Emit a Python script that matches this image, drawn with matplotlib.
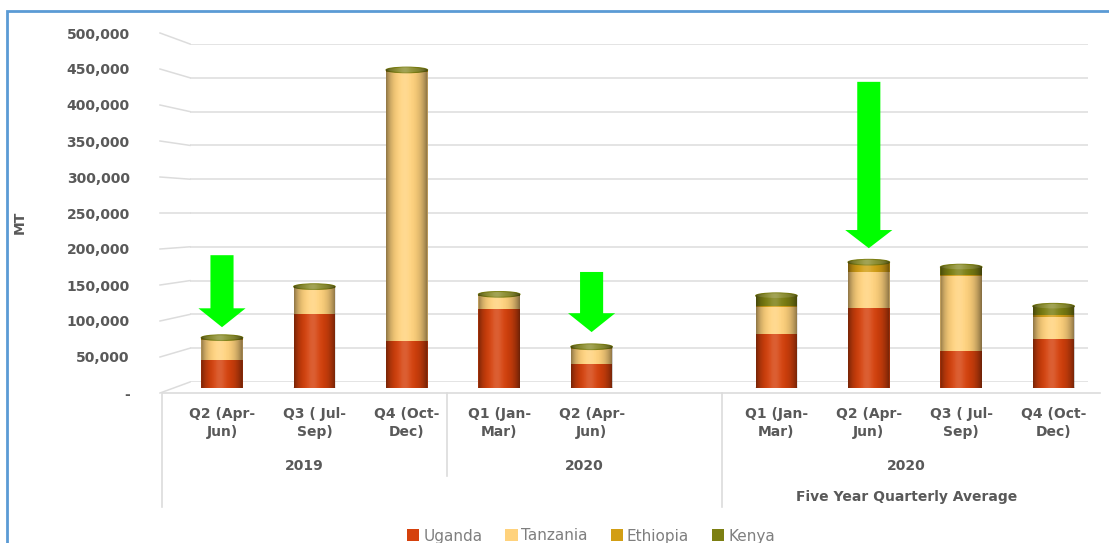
import numpy as np
import matplotlib
matplotlib.use('Agg')
import matplotlib.pyplot as plt
import matplotlib.patches as mpatches
import matplotlib.transforms as mtrans
from matplotlib.lines import Line2D
from matplotlib.colors import to_rgb

# data (MT), one slot per quarter, slot 5 is an empty spacer
quarters = ['Q2 (Apr-\nJun)', 'Q3 ( Jul-\nSep)', 'Q4 (Oct-\nDec)',
            'Q1 (Jan-\nMar)', 'Q2 (Apr-\nJun)', '',
            'Q1 (Jan-\nMar)', 'Q2 (Apr-\nJun)', 'Q3 ( Jul-\nSep)', 'Q4 (Oct-\nDec)']
uganda = [40000, 106000, 67000, 113000, 34000, 0, 77000, 114000, 53000, 70000]
tanzania = [29000, 37000, 385000, 18000, 22000, 0, 39000, 52000, 107000, 32000]
ethiopia = [2000, 1000, 2000, 1000, 1000, 0, 2000, 13000, 2000, 2000]
kenya = [1000, 1000, 1000, 2000, 2000, 0, 14000, 1000, 11000, 13000]
series_names = ['Uganda', 'Tanzania', 'Ethiopia', 'Kenya']
series_colors = ['#D5410C', '#FFD27C', '#D29E14', '#7C7F12']
groups = [['2019'], ['2020'], ['2020', 'Five Year Quarterly Average']]
group_edges = [-0.65, 2.43, 5.41, 9.41]
arrow_slots = [0, 4, 7]

W, H = 1109, 543
fig = plt.figure(figsize=(W / 100, H / 100), dpi=100)
fig.patch.set_facecolor('white')
GRAY = '#595959'
GRID = '#DCDCDC'


def px_axes(left, right, top, bottom, **kw):
    return fig.add_axes([left / W, 1 - bottom / H, (right - left) / W, (bottom - top) / H], **kw)


# 3 planes of the fake 3d chart: back wall, bars (middle), front (labels)
XL, XR = 163, 1100
xlim = (-(222 - XL) / 92.4, (XR - 222) / 92.4)
wall = px_axes(190, 1088, 44, 382)
front = px_axes(XL, XR, 33, 393)
ax = px_axes(XL, XR, 38.5, 388)
for a in (wall, front, ax):
    a.set_ylim(0, 500000)
    a.patch.set_alpha(0)
    for s in a.spines.values():
        s.set_visible(False)
    a.set_xticks([])
wall.set_xlim(0, 1)
front.set_xlim(*xlim)
ax.set_xlim(*xlim)
ax.set_yticks([])
wall.set_yticks([])

ticks = np.arange(0, 500001, 50000)
for t in ticks:
    wall.axhline(t, color=GRID, lw=1.1, zorder=0)
    # slanted stub from front plane to wall
    y_front = front.transData.transform((0, t))[1]
    y_wall = wall.transData.transform((0, t))[1]
    fig.add_artist(Line2D([160 / W, 190 / W], [y_front / H, y_wall / H],
                          transform=fig.transFigure, color=GRID, lw=1.1))

front.set_yticks(ticks)
front.set_yticklabels(['-' if t == 0 else '{:,}'.format(t) for t in ticks],
                      fontsize=10, fontweight='bold', color=GRAY)
front.tick_params(axis='y', length=0, pad=24)
front.spines['bottom'].set_visible(True)
front.spines['bottom'].set_color(GRID)
front.spines['bottom'].set_linewidth(1.2)
fig.text(20 / W, 1 - 222 / H, 'MT', rotation=90, ha='center', va='center',
         fontsize=10, fontweight='bold', color=GRAY)

# stacked cylinders
x = np.arange(len(quarters))
bw = 0.45
eh = 8000
data = [uganda, tanzania, ethiopia, kenya]
bottom = np.zeros(len(x))
for vals, c in zip(data, series_colors):
    vals = np.array(vals, dtype=float)
    ax.bar(x, vals, bw, bottom=bottom, color=c, zorder=2, linewidth=0)
    bottom += vals


def lighten(c, f):
    r = np.array(to_rgb(c))
    return tuple(r + (1 - r) * f)


prof = np.linspace(0, 1, 200)
shade = np.zeros((1, 200, 4))
shade[0, :, 3] = np.clip(0.5 * ((prof - 0.45) / 0.55) ** 3, 0, 1)
shade[0, prof < 0.45, 3] = 0.45 * ((0.45 - prof[prof < 0.45]) / 0.45) ** 3
hi = np.zeros((1, 200, 4))
hi[0, :, :3] = 1
hi[0, :, 3] = 0.16 * np.exp(-((prof - 0.45) / 0.15) ** 2)

for i in x:
    total = bottom[i]
    if total == 0:
        continue
    top_c = series_colors[max(k for k in range(4) if data[k][i] > 0)]
    ax.add_patch(mpatches.Ellipse((i, 0), bw, eh, color=series_colors[0], zorder=1.9, lw=0))
    ax.add_patch(mpatches.Ellipse((i, total), bw, eh, facecolor=lighten(top_c, 0.15),
                                  edgecolor=top_c, lw=0.8, zorder=2.1))
    # silhouette for shading clip
    th = np.linspace(np.pi, 2 * np.pi, 40)
    low = np.column_stack([i + bw / 2 * np.cos(th), eh / 2 * np.sin(th)])
    th2 = np.linspace(0, np.pi, 40)
    up = np.column_stack([i + bw / 2 * np.cos(th2), total + eh / 2 * np.sin(th2)])
    sil = mpatches.Polygon(np.vstack([low, up]), closed=True, transform=ax.transData,
                           fill=False, lw=0)
    ax.add_patch(sil)
    for img in (shade, hi):
        im = ax.imshow(img, extent=(i - bw / 2, i + bw / 2, -eh, total + eh),
                       aspect='auto', zorder=3, interpolation='bilinear')
        im.set_clip_path(sil)
ax.set_xlim(*xlim)
ax.set_ylim(0, 500000)

# green arrows (pixel-measured annotation positions)
arrow_spec = [(190000, 87000, 27000), (166000, 80000, 27000), (438000, 200000, 26000)]
for s, (ytop, ytip, hl) in zip(arrow_slots, arrow_spec):
    ax.add_patch(mpatches.FancyArrow(s, ytop, 0, ytip - ytop, width=0.25, head_width=0.51,
                                     head_length=hl, length_includes_head=True,
                                     color='#00FF00', lw=0, zorder=5, clip_on=False))

# category labels
bt = mtrans.blended_transform_factory(front.transData, fig.transFigure)
for i, q in enumerate(quarters):
    if q:
        fig.text(i, 1 - 423 / H, q, transform=bt, ha='center', va='center', fontsize=10,
                 fontweight='bold', color=GRAY, linespacing=1.45)
row_y = [466, 497]
for g, names in enumerate(groups):
    cx = (group_edges[g] + group_edges[g + 1]) / 2
    for r, name in enumerate(names):
        fig.text(cx, 1 - row_y[r] / H, name, transform=bt, ha='center', va='center',
                 fontsize=10, fontweight='bold', color=GRAY)
sep_bottom = [507, 476, 507]
for e, yb in zip(group_edges[:3], sep_bottom):
    fig.add_artist(Line2D([e, e], [1 - 393 / H, 1 - yb / H], transform=bt,
                          color=GRID, lw=1.2))

handles = [mpatches.Patch(facecolor=c, edgecolor='none') for c in series_colors]
fig.legend(handles, series_names, loc='center', bbox_to_anchor=(591 / W, 1 - 536 / H),
           ncol=4, frameon=False, fontsize=11, labelcolor='#7F7F7F', handlelength=0.8,
           handleheight=0.8, handletextpad=0.25, columnspacing=1.5)

# outer blue frame
fig.add_artist(mpatches.Rectangle((7 / W, -0.1), 1.2, 1.1 - 11 / H, transform=fig.transFigure,
                                  fill=False, edgecolor='#5B9BD5', lw=2))

fig.savefig('out.png', dpi=100)
